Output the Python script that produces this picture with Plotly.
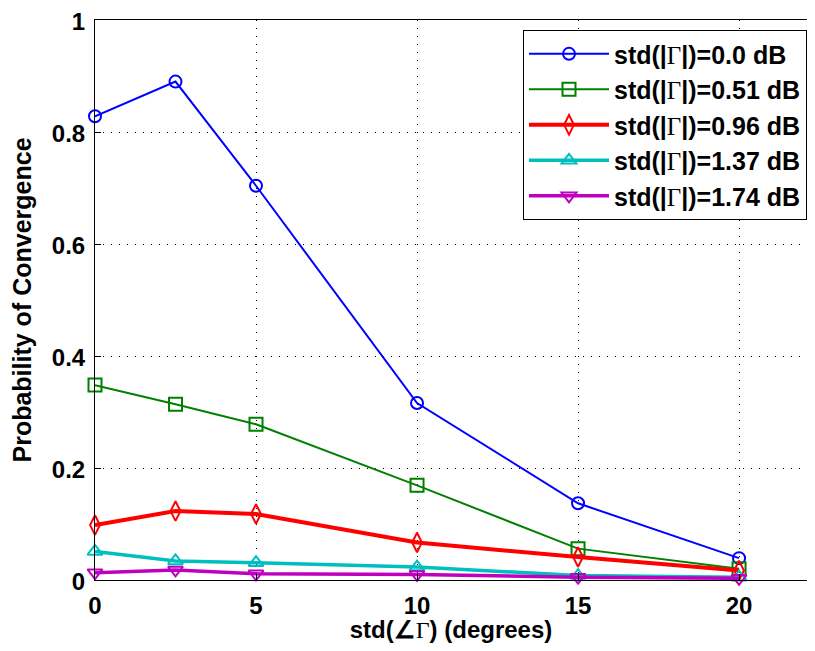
import plotly.graph_objects as go

x_vals = [0, 2.5, 5, 10, 15, 20]
p_000 = [0.828, 0.890, 0.704, 0.316, 0.137, 0.039]
p_051 = [0.348, 0.314, 0.278, 0.169, 0.056, 0.020]
p_096 = [0.098, 0.123, 0.118, 0.067, 0.041, 0.017]
p_137 = [0.051, 0.034, 0.031, 0.023, 0.008, 0.005]
p_174 = [0.013, 0.018, 0.011, 0.010, 0.005, 0.003]
series_names = ["0.0", "0.51", "0.96", "1.37", "1.74"]
x_ticks = [0, 5, 10, 15, 20]
y_ticks = [0, 0.2, 0.4, 0.6, 0.8, 1]
y_tick_text = ["0", "0.2", "0.4", "0.6", "0.8", "1"]

G = '<span style="font-family:Liberation Serif;font-weight:normal">Γ</span>'

styles = [
    dict(color="#0000FF", width=2, symbol="circle-open", size=12),
    dict(color="#008000", width=2, symbol="square-open", size=13),
    dict(color="#FF0000", width=4, symbol="diamond-tall-open", size=14),
    dict(color="#00BFBF", width=3.5, symbol="triangle-up-open", size=13),
    dict(color="#BF00BF", width=3.5, symbol="triangle-down-open", size=13),
]
data = [p_000, p_051, p_096, p_137, p_174]

fig = go.Figure()
for name, ys, st in zip(series_names, data, styles):
    fig.add_trace(go.Scatter(
        x=x_vals, y=ys, mode="lines+markers",
        name=f"<b>std(|{G}|)={name} dB</b>",
        line=dict(color=st["color"], width=st["width"]),
        marker=dict(symbol=st["symbol"], size=st["size"],
                    line=dict(color=st["color"], width=2)),
        cliponaxis=False,
    ))

font_main = dict(family="Liberation Sans, Arial", size=24, color="black")

# page body has an 8px default margin; size the figure so the page does not overflow
fig.update_layout(
    width=799, height=635,
    margin=dict(l=87, r=0, t=12, b=63, autoexpand=False),
    paper_bgcolor="white", plot_bgcolor="white",
    font=font_main,
    showlegend=True,
    legend=dict(
        x=1.0, y=0.982, xanchor="right", yanchor="top",
        bgcolor="white", bordercolor="black", borderwidth=1,
        font=dict(family="Liberation Sans, Arial", size=25, color="black"),
        itemwidth=80,
    ),
    xaxis=dict(
        range=[0, 22.11], tickvals=x_ticks,
        ticktext=[f"<b>{v}</b>" for v in x_ticks],
        showline=True, linecolor="black", linewidth=1, mirror=True,
        ticks="inside", ticklen=6, tickcolor="black",
        showgrid=True, gridcolor="black", gridwidth=1, griddash="1px,7px",
        zeroline=False, ticklabelstandoff=4, automargin=False,
        ticklabeloverflow="allow",
        title=dict(text=f"<b>std(∠{G}) (degrees)</b>", standoff=6,
                   font=dict(size=24)),
    ),
    yaxis=dict(
        range=[0, 1], tickvals=y_ticks,
        ticktext=[f"<b>{t}</b>" for t in y_tick_text],
        showline=True, linecolor="black", linewidth=1, mirror=False,
        ticks="inside", ticklen=6, tickcolor="black",
        showgrid=True, gridcolor="black", gridwidth=1, griddash="1px,7px",
        zeroline=False, ticklabelstandoff=4, automargin=False,
        ticklabeloverflow="allow", ticklabelshift=2,
        title=dict(text="<b>Probability of Convergence</b>", standoff=18,
                   font=dict(size=25)),
    ),
)

fig.write_html("out.html")
